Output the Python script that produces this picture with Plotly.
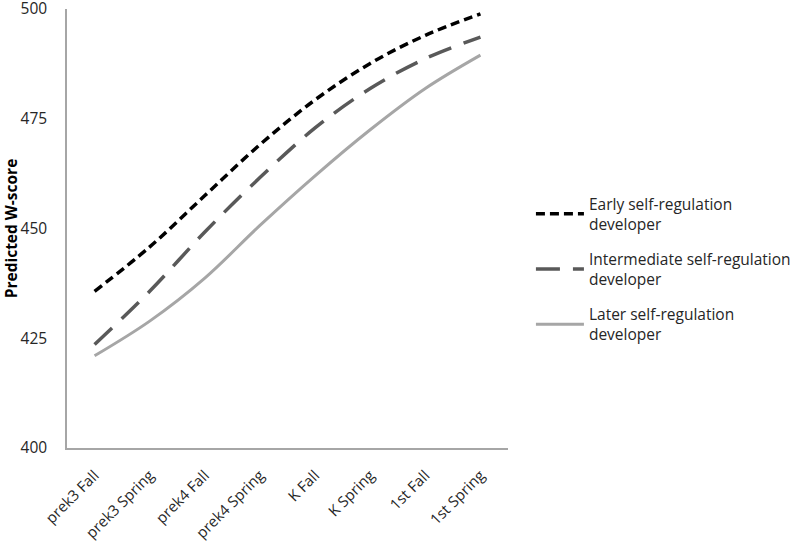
import plotly.graph_objects as go

categories = ["prek3 Fall", "prek3 Spring", "prek4 Fall", "prek4 Spring",
              "K Fall", "K Spring", "1st Fall", "1st Spring"]
early = [435.7, 445.8, 457.5, 469.1, 479.3, 487.6, 494.0, 498.9]
intermediate = [423.6, 435.7, 449.2, 461.6, 472.9, 481.9, 488.7, 493.6]
later = [421.0, 428.9, 438.7, 450.7, 462.0, 472.5, 481.9, 489.5]
y_ticks = [400, 425, 450, 475, 500]

names = ["Early self-regulation<br>developer",
         "Intermediate self-regulation<br>developer",
         "Later self-regulation<br>developer"]

fig = go.Figure()
fig.add_trace(go.Scatter(x=categories, y=early, mode="lines", name=names[0],
                         legendgroup="a",
                         line=dict(color="#000000", width=3.5, dash="9px,5px", shape="spline")))
fig.add_trace(go.Scatter(x=categories, y=intermediate, mode="lines", name=names[1],
                         legendgroup="b",
                         line=dict(color="#595959", width=3.5, dash="24px,13px", shape="spline")))
fig.add_trace(go.Scatter(x=categories, y=later, mode="lines", name=names[2],
                         legendgroup="c",
                         line=dict(color="#a6a6a6", width=3, shape="spline")))

font_family = "Open Sans, Liberation Sans, sans-serif"
fig.update_layout(
    width=800, height=542,
    margin=dict(l=67, r=292, t=9, b=94, autoexpand=False),
    paper_bgcolor="white", plot_bgcolor="white",
    font=dict(family=font_family, size=15, color="#262626"),
    showlegend=True,
    legend=dict(x=1.052, y=0.5945, xanchor="left", yanchor="top",
                font=dict(size=15.5, color="#262626"),
                tracegroupgap=12, traceorder="grouped", itemwidth=48,
                bgcolor="rgba(0,0,0,0)"),
    xaxis=dict(type="category", range=[-0.5, 7.5], showline=True, linecolor="#a6a6a6",
               linewidth=1.5, showgrid=False, ticks="", tickangle=-45, zeroline=False,
               automargin=False, ticklabelstandoff=11,
               tickfont=dict(size=15)),
    yaxis=dict(range=[400, 500], tickvals=y_ticks, showline=True, linecolor="#a6a6a6",
               linewidth=1.5, showgrid=False, ticks="", zeroline=False,
               automargin=False, ticklabelstandoff=15, ticklabeloverflow="allow",
               tickfont=dict(size=15.5),
               title=dict(text="<b>Predicted W-score</b>", font=dict(size=15.5, color="#000000"),
                          standoff=8)),
)

fig.write_html("out.html", post_script="document.body.style.margin='0';",
               config={"displayModeBar": False})
